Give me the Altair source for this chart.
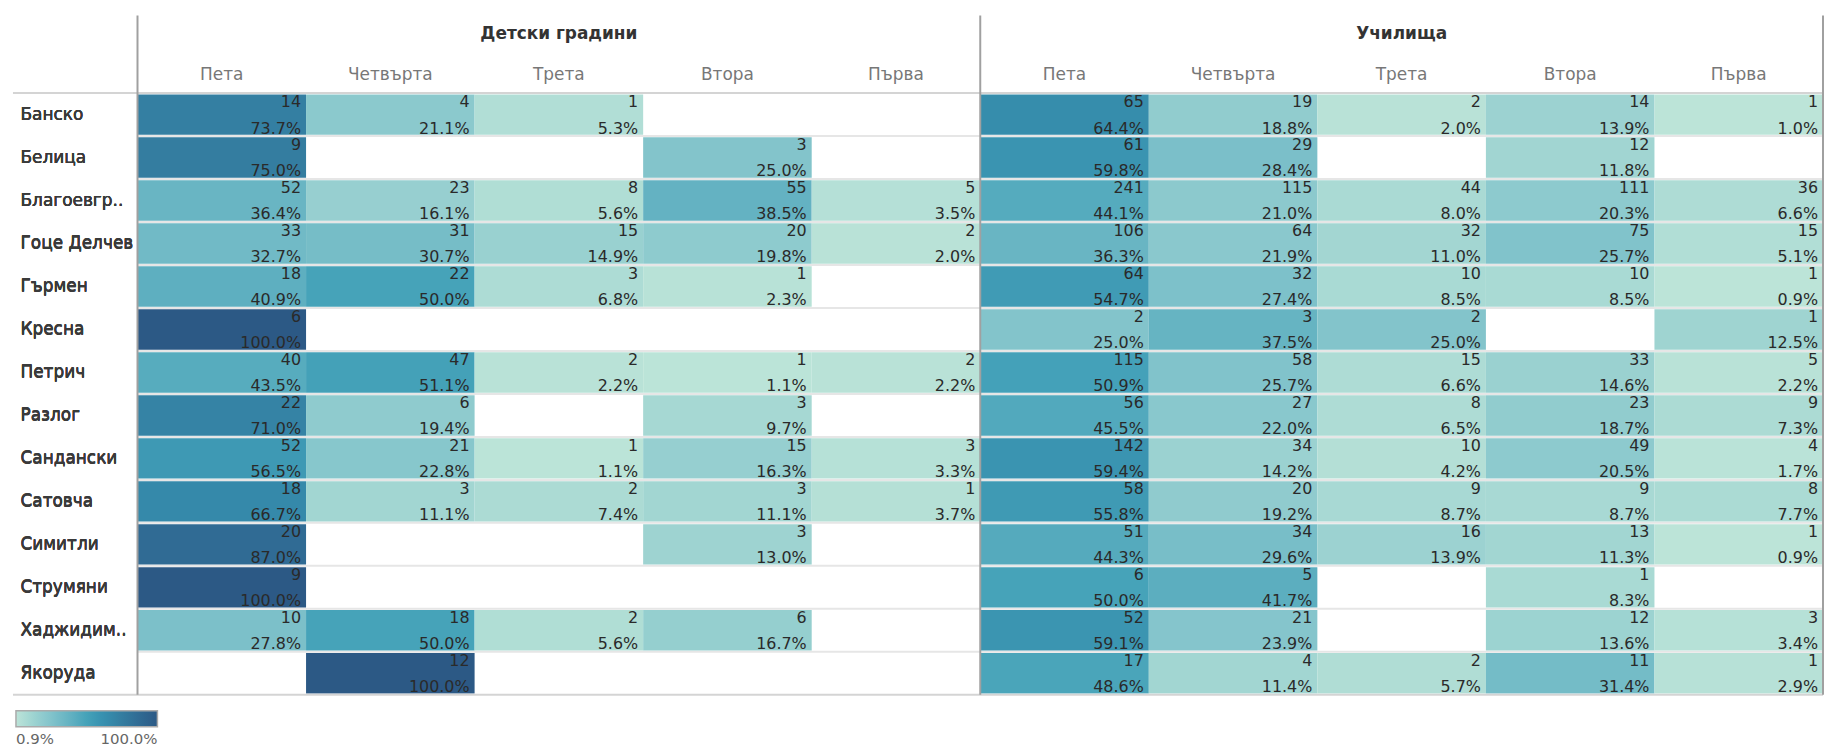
import altair as alt
import pandas as pd

munis = ["Банско", "Белица", "Благоевгр..", "Гоце Делчев", "Гърмен", "Кресна", "Петрич",
         "Разлог", "Сандански", "Сатовча", "Симитли", "Струмяни", "Хаджидим..", "Якоруда"]
levels = ["Пета", "Четвърта", "Трета", "Втора", "Първа"]
groups = ["Детски градини", "Училища"]

# Детски градини: counts and percents per municipality (Пета, Четвърта, Трета, Втора, Първа)
kg_counts = [
    [14, 4, 1, None, None],
    [9, None, None, 3, None],
    [52, 23, 8, 55, 5],
    [33, 31, 15, 20, 2],
    [18, 22, 3, 1, None],
    [6, None, None, None, None],
    [40, 47, 2, 1, 2],
    [22, 6, None, 3, None],
    [52, 21, 1, 15, 3],
    [18, 3, 2, 3, 1],
    [20, None, None, 3, None],
    [9, None, None, None, None],
    [10, 18, 2, 6, None],
    [None, 12, None, None, None],
]
kg_pcts = [
    [73.7, 21.1, 5.3, None, None],
    [75.0, None, None, 25.0, None],
    [36.4, 16.1, 5.6, 38.5, 3.5],
    [32.7, 30.7, 14.9, 19.8, 2.0],
    [40.9, 50.0, 6.8, 2.3, None],
    [100.0, None, None, None, None],
    [43.5, 51.1, 2.2, 1.1, 2.2],
    [71.0, 19.4, None, 9.7, None],
    [56.5, 22.8, 1.1, 16.3, 3.3],
    [66.7, 11.1, 7.4, 11.1, 3.7],
    [87.0, None, None, 13.0, None],
    [100.0, None, None, None, None],
    [27.8, 50.0, 5.6, 16.7, None],
    [None, 100.0, None, None, None],
]
# Училища
sch_counts = [
    [65, 19, 2, 14, 1],
    [61, 29, None, 12, None],
    [241, 115, 44, 111, 36],
    [106, 64, 32, 75, 15],
    [64, 32, 10, 10, 1],
    [2, 3, 2, None, 1],
    [115, 58, 15, 33, 5],
    [56, 27, 8, 23, 9],
    [142, 34, 10, 49, 4],
    [58, 20, 9, 9, 8],
    [51, 34, 16, 13, 1],
    [6, 5, None, 1, None],
    [52, 21, None, 12, 3],
    [17, 4, 2, 11, 1],
]
sch_pcts = [
    [64.4, 18.8, 2.0, 13.9, 1.0],
    [59.8, 28.4, None, 11.8, None],
    [44.1, 21.0, 8.0, 20.3, 6.6],
    [36.3, 21.9, 11.0, 25.7, 5.1],
    [54.7, 27.4, 8.5, 8.5, 0.9],
    [25.0, 37.5, 25.0, None, 12.5],
    [50.9, 25.7, 6.6, 14.6, 2.2],
    [45.5, 22.0, 6.5, 18.7, 7.3],
    [59.4, 14.2, 4.2, 20.5, 1.7],
    [55.8, 19.2, 8.7, 8.7, 7.7],
    [44.3, 29.6, 13.9, 11.3, 0.9],
    [50.0, 41.7, None, 8.3, None],
    [59.1, 23.9, None, 13.6, 3.4],
    [48.6, 11.4, 5.7, 31.4, 2.9],
]

keys = [g + "|" + l for g in groups for l in levels]

rows = []
for g, counts, pcts in [(groups[0], kg_counts, kg_pcts), (groups[1], sch_counts, sch_pcts)]:
    for i, m in enumerate(munis):
        for j, l in enumerate(levels):
            c = counts[i][j]
            if c is None:
                continue
            rows.append({"muni": m, "key": g + "|" + l, "count": c, "pct": pcts[i][j] / 100.0})
df = pd.DataFrame(rows)

W = 1692
H = 604
FONT = "DejaVu Sans"

xscale = alt.Scale(domain=keys, paddingInner=0, paddingOuter=0)
yscale = alt.Scale(domain=munis, paddingInner=0.06, paddingOuter=0.03)

xaxis = alt.Axis(orient="top", title=None, labelExpr="split(datum.label, '|')[1]",
                 labelFontSize=17, labelColor="#777777", labelPadding=19, labelBaseline="middle",
                 labelAngle=0, ticks=False, tickSize=0, domain=False, labelFont=FONT, grid=False,
                 labelFontWeight="normal")
yaxis = alt.Axis(orient="left", title=None, labelAlign="left", labelPadding=118, ticks=False,
                 tickSize=0, domain=False, labelFontSize=17, labelColor="#3a3a3a",
                 labelBaseline="middle", labelFont=FONT, grid=False, labelFontWeight="normal")

base = alt.Chart(df)

# light row separators
sep = alt.Chart(pd.DataFrame({"muni": munis})).mark_rule(color="#e6e6e6", strokeWidth=2).encode(
    y=alt.Y("muni:N", scale=yscale, axis=yaxis, bandPosition=0),
    yOffset=alt.value(-1.3),
    x=alt.value(0),
    x2=alt.value(W),
)

cells = base.mark_rect().encode(
    x=alt.X("key:N", scale=xscale, axis=xaxis),
    y=alt.Y("muni:N", scale=yscale, axis=yaxis),
    color=alt.Color("pct:Q",
                    scale=alt.Scale(scheme="tealblues", domain=[0.009, 1.0]),
                    legend=alt.Legend(orient="none", legendX=-122, legendY=620, direction="horizontal",
                                      gradientLength=142, gradientThickness=16, title=None,
                                      values=[0.009, 1.0], format=".1%", labelFontSize=15,
                                      labelColor="#666666", labelFont=FONT, labelOffset=5,
                                      gradientStrokeColor="#aaaaaa", gradientStrokeWidth=1.5)),
)

count_text = base.mark_text(align="right", baseline="top", dx=-5, dy=-20.5, fontSize=16,
                            font=FONT, color="#2a2a2a").encode(
    x=alt.X("key:N", scale=xscale, axis=xaxis, bandPosition=1),
    y=alt.Y("muni:N", scale=yscale, axis=yaxis),
    text=alt.Text("count:Q", format="d"),
)

pct_text = base.mark_text(align="right", baseline="alphabetic", dx=-5, dy=19, fontSize=16,
                          font=FONT, color="#2a2a2a").encode(
    x=alt.X("key:N", scale=xscale, axis=xaxis, bandPosition=1),
    y=alt.Y("muni:N", scale=yscale, axis=yaxis),
    text=alt.Text("pct:Q", format=".1%"),
)

hlines = alt.Chart(pd.DataFrame({"yy": [0, H]})).mark_rule(color="#d4d4d4", strokeWidth=2).encode(
    x=alt.value(-125), x2=alt.value(W),
    y=alt.Y("yy:Q", scale=alt.Scale(domain=[0, H], range=[0, H]), axis=None),
)

vstart = alt.Chart(pd.DataFrame({"key": [keys[0], keys[5]]})).mark_rule(
    color="#a0a0a0", strokeWidth=2).encode(
    x=alt.X("key:N", scale=xscale, axis=xaxis, bandPosition=0),
    y=alt.value(-78), y2=alt.value(H),
)
vend = alt.Chart(pd.DataFrame({"key": [keys[-1]]})).mark_rule(
    color="#a0a0a0", strokeWidth=2).encode(
    x=alt.X("key:N", scale=xscale, axis=xaxis, bandPosition=1),
    y=alt.value(-78), y2=alt.value(H),
)

titles = alt.Chart(pd.DataFrame({"key": [groups[0] + "|Трета", groups[1] + "|Трета"],
                                 "title": groups})).mark_text(
    fontSize=17, fontWeight="bold", font=FONT, color="#333333", baseline="middle").encode(
    x=alt.X("key:N", scale=xscale, axis=xaxis),
    y=alt.value(-59),
    text="title:N",
)

chart = alt.layer(sep, cells, count_text, pct_text, hlines, vstart, vend, titles).properties(
    width=W, height=H, padding={"left": 4, "top": 5, "right": 0, "bottom": 0}
).configure_view(stroke=None).resolve_scale(y="shared")

chart.save("out.html", embed_options={"renderer": "svg", "actions": False})
